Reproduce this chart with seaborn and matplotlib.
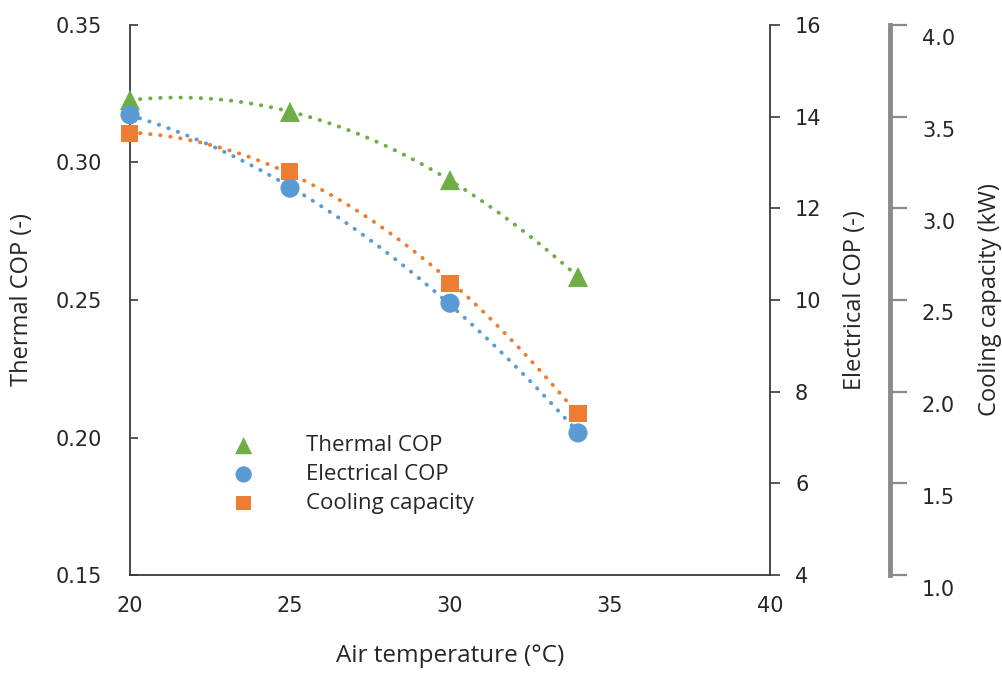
import matplotlib
matplotlib.use("Agg")
import matplotlib.pyplot as plt
import seaborn as sns
from matplotlib.transforms import ScaledTranslation

# values
air_temp = [20, 25, 30, 34]
thermal_cop = [0.3227, 0.3184, 0.2936, 0.2584]
electrical_cop = [14.04, 12.44, 9.93, 7.10]
cooling_capacity = [3.41, 3.20, 2.59, 1.88]

x_ticks = [20, 25, 30, 35, 40]
thermal_ticks = [0.15, 0.20, 0.25, 0.30, 0.35]
electrical_ticks = [4, 6, 8, 10, 12, 14, 16]
cooling_ticks = [1.0, 1.5, 2.0, 2.5, 3.0, 3.5, 4.0]

GREEN = "#70AD47"
BLUE = "#5B9BD5"
ORANGE = "#ED7D31"
AXIS_COLOR = "#3a3a3a"
GREY_AXIS = "#8a8a8a"
TEXT_COLOR = "#262626"
LABEL_FONT = ["Open Sans", "DejaVu Sans"]

sns.set_theme(style="white")
plt.rcParams["font.family"] = ["DejaVu Sans"]
plt.rcParams["text.color"] = TEXT_COLOR


def draw_series(axis, y, color, marker, size, label):
    """Excel style dotted quadratic trendline plus markers"""
    sns.regplot(x=air_temp, y=y, order=2, ci=None, scatter=False, ax=axis,
                truncate=True,
                line_kws=dict(color=color, lw=2.8, ls=(0, (0.1, 2.5)),
                              dash_capstyle="round"))
    sns.scatterplot(x=air_temp, y=y, ax=axis, color=color, marker=marker,
                    s=size, edgecolor="none", linewidth=0, label=label,
                    legend=False, zorder=5, clip_on=False)
    return axis.collections[-1]


fig = plt.figure(figsize=(10.03, 6.73), dpi=100)
ax = fig.add_axes([0.1296, 0.1456, 0.6381, 0.8173])
ax2 = ax.twinx()
ax3 = ax.twinx()

h1 = draw_series(ax, thermal_cop, GREEN, "^", 210, "Thermal COP")
h2 = draw_series(ax2, electrical_cop, BLUE, "o", 190, "Electrical COP")
h3 = draw_series(ax3, cooling_capacity, ORANGE, "s", 150, "Cooling capacity")

# main axes
ax.set_xlim(20, 40)
ax.set_ylim(0.15, 0.35)
ax.set_xticks(x_ticks)
ax.set_yticks(thermal_ticks)
ax.set_yticklabels([f"{t:.2f}" for t in thermal_ticks])
ax.tick_params(axis="both", direction="in", length=6, width=1.2,
               color=AXIS_COLOR, labelsize=15, labelcolor=TEXT_COLOR)
ax.tick_params(axis="y", pad=20)
ax.tick_params(axis="x", pad=15)
for side in ["top", "right"]:
    ax.spines[side].set_visible(False)
for side in ["left", "bottom"]:
    ax.spines[side].set_color(AXIS_COLOR)
    ax.spines[side].set_linewidth(1.3)
ax.set_xlabel("Air temperature (°C)", fontsize=17.5, family=LABEL_FONT)
ax.set_ylabel("Thermal COP (-)", fontsize=17, family=LABEL_FONT)
ax.xaxis.set_label_coords(0.5, -0.125)
ax.yaxis.set_label_coords(-0.15, 0.5)

# electrical COP axis
ax2.set_ylim(4, 16)
ax2.set_yticks(electrical_ticks)
ax2.tick_params(axis="y", direction="out", length=7, width=1.2,
                color=AXIS_COLOR, labelsize=15, labelcolor=TEXT_COLOR, pad=11)
for side in ["top", "left", "bottom"]:
    ax2.spines[side].set_visible(False)
ax2.spines["right"].set_color(AXIS_COLOR)
ax2.spines["right"].set_linewidth(1.3)
ax2.set_ylabel("Electrical COP (-)", fontsize=17, family=LABEL_FONT)
ax2.yaxis.set_label_coords(1.114, 0.5)

# cooling capacity axis, offset to the right
ax3.set_ylim(1.0, 4.0)
ax3.set_yticks(cooling_ticks)
ax3.set_yticklabels([f"{t:.1f}" for t in cooling_ticks])
ax3.set_yticks([1.0, 4.0], minor=True)
ax3.tick_params(axis="y", which="major", direction="out", length=12,
                width=1.6, color=GREY_AXIS, labelsize=15,
                labelcolor=TEXT_COLOR, pad=11)
ax3.tick_params(axis="y", which="minor", direction="inout", length=26,
                width=1.6, color=GREY_AXIS)
for side in ["top", "left", "bottom"]:
    ax3.spines[side].set_visible(False)
ax3.spines["right"].set_position(("axes", 1.1875))
ax3.spines["right"].set_color(GREY_AXIS)
ax3.spines["right"].set_linewidth(3.5)
ax3.set_ylabel("Cooling capacity (kW)", fontsize=17, family=LABEL_FONT)
ax3.yaxis.set_label_coords(1.325, 0.5)
# tick labels on this axis sit a little below their ticks in the original
shift = ScaledTranslation(0, -9 / 72, fig.dpi_scale_trans)
for lbl in ax3.get_yticklabels():
    lbl.set_transform(lbl.get_transform() + shift)

ax3.legend([h1, h2, h3], ["Thermal COP", "Electrical COP", "Cooling capacity"],
           loc="upper left", bbox_to_anchor=(0.129, 0.29), frameon=False,
           handlelength=1.0, handletextpad=2.3, labelspacing=0.35,
           markerscale=0.85, prop=dict(family=LABEL_FONT, size=16))

fig.savefig("out.png", dpi=100)
